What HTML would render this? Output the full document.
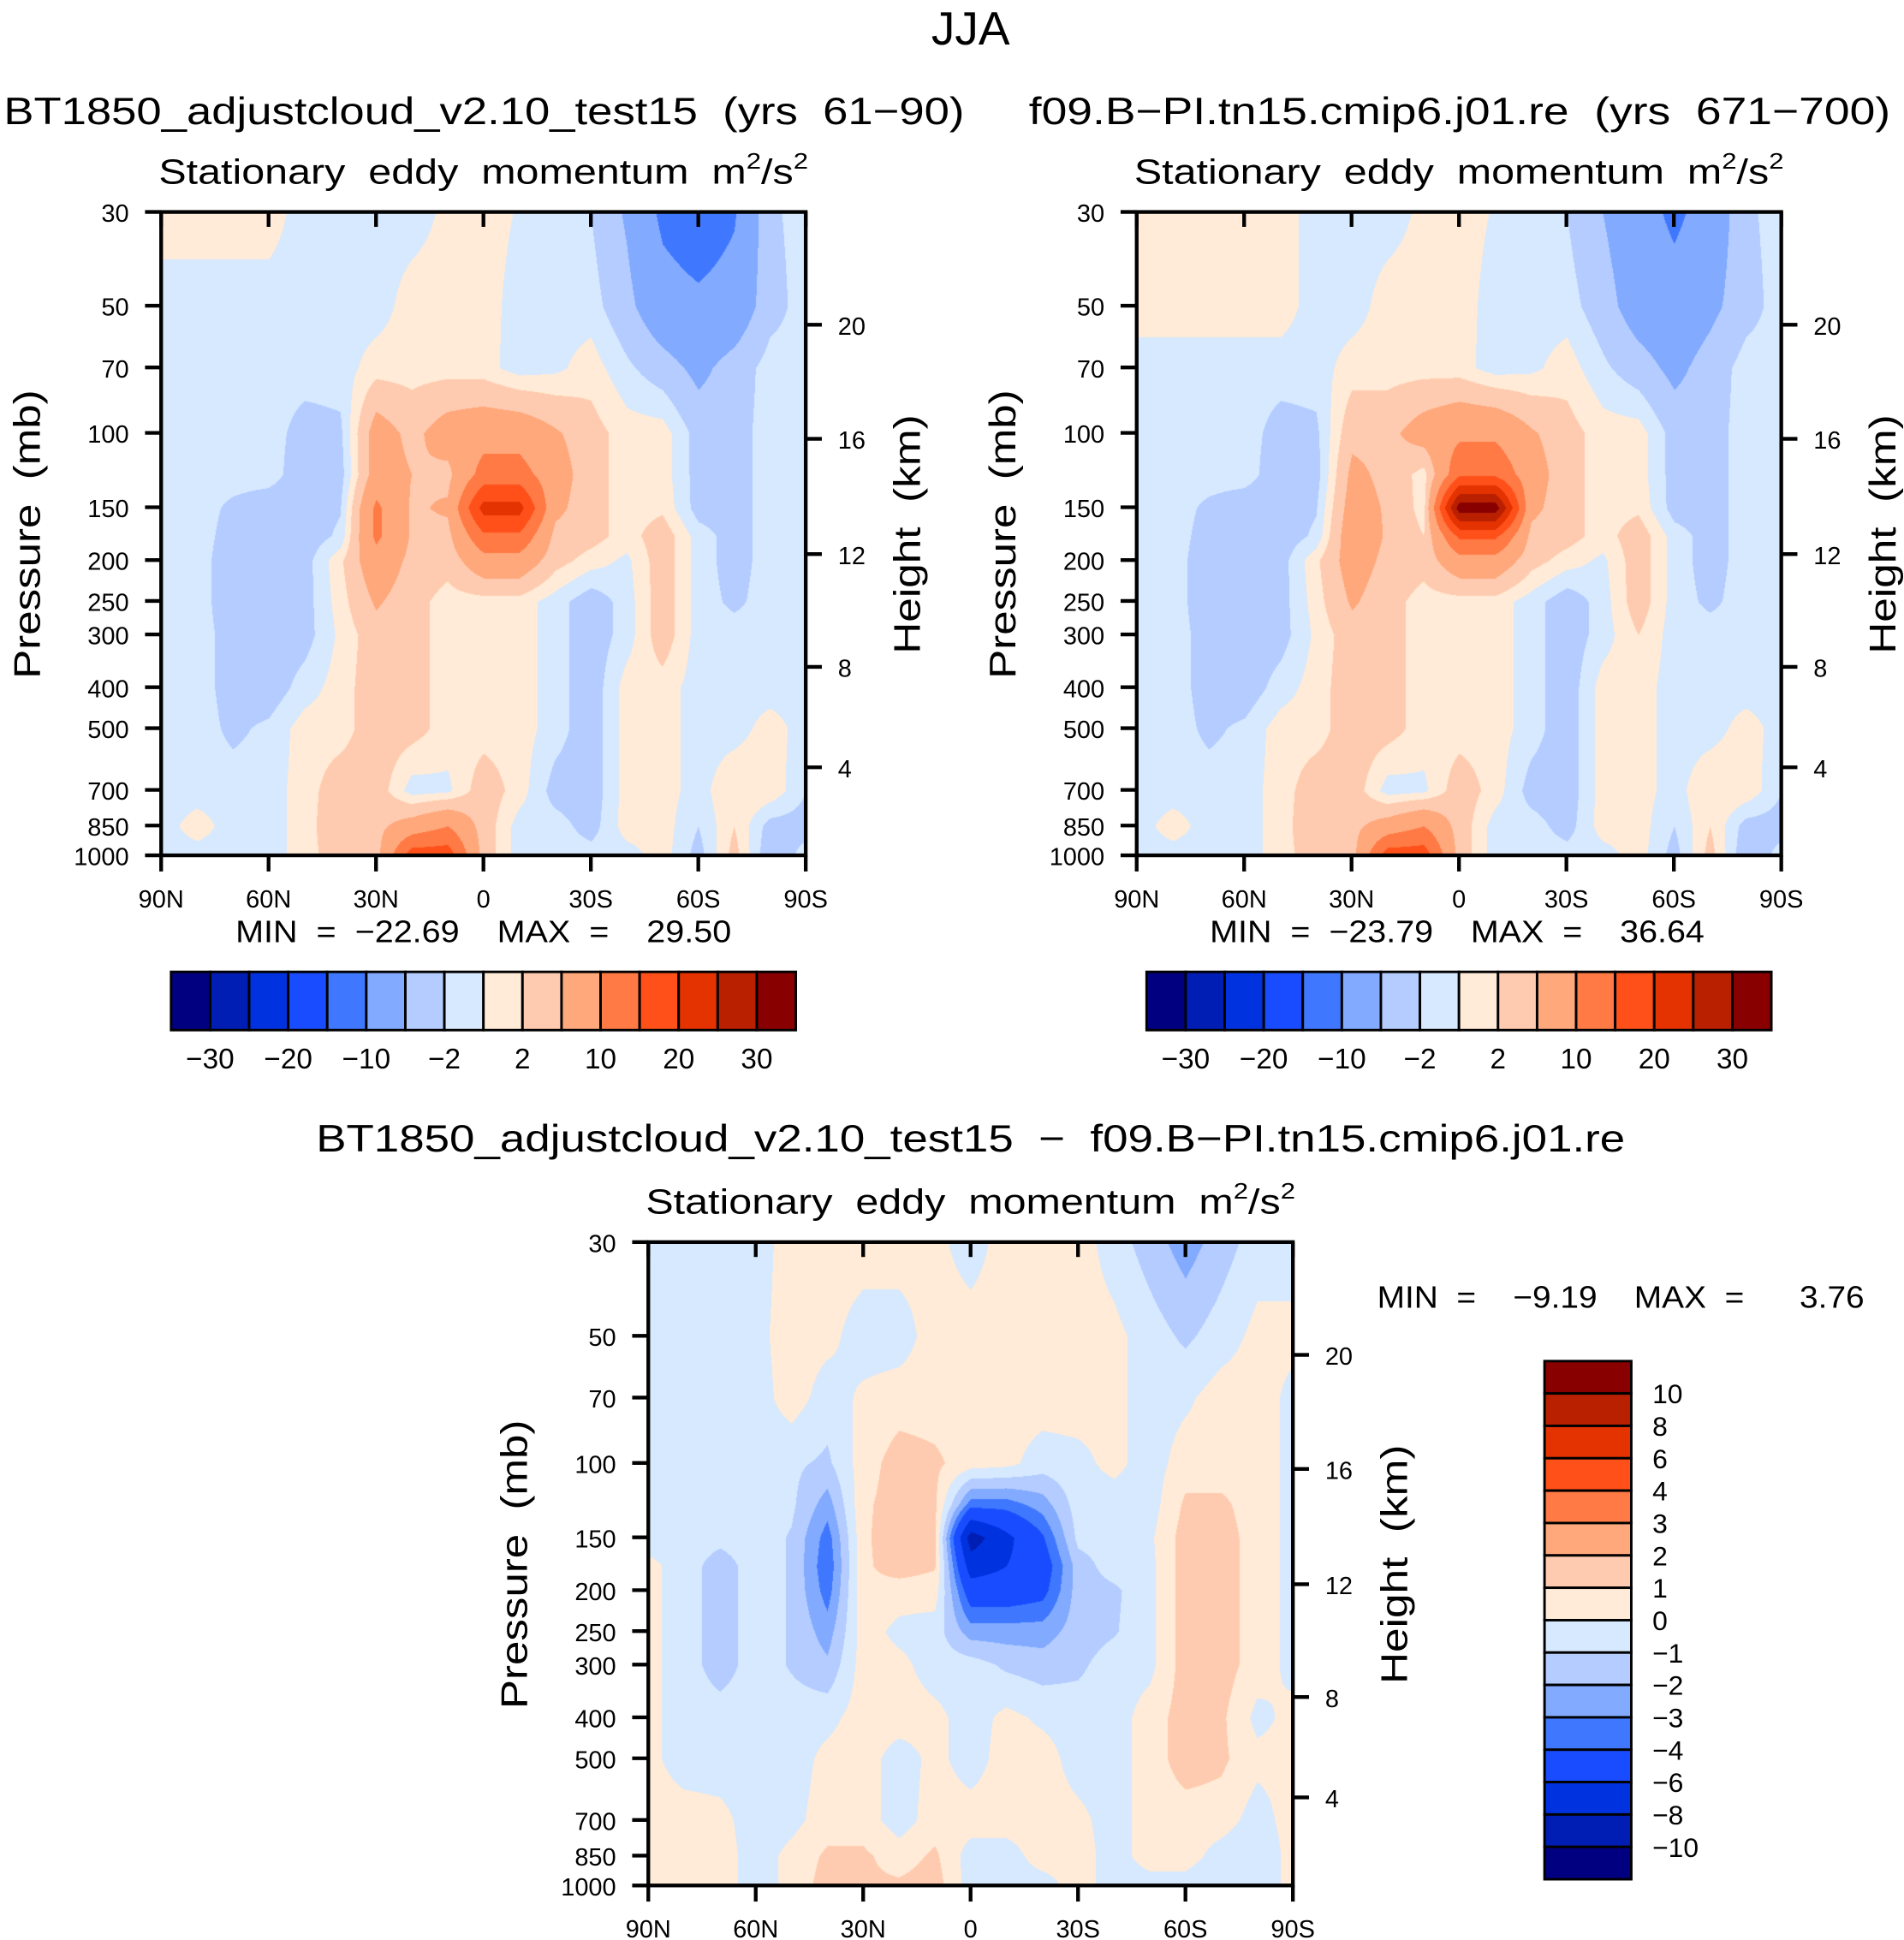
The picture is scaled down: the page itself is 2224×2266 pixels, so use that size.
<!DOCTYPE html>
<html><head><meta charset="utf-8"><style>
html,body{margin:0;padding:0;background:#fff;}
#root{position:relative;width:2224px;height:2266px;overflow:hidden;background:#fff;}
canvas{position:absolute;}
svg{position:absolute;left:0;top:0;}
text{font-family:"Liberation Sans",sans-serif;fill:#000;white-space:pre;}
</style></head><body>
<div id="root">
<canvas id="c1"></canvas>
<canvas id="c2"></canvas>
<canvas id="c3"></canvas>
<svg id="ov" width="2224" height="2266" viewBox="0 0 1536 1565" xml:space="preserve"></svg>
</div>
<script>
const pressures=[30,50,70,100,125,150,175,200,250,300,400,500,700,850,1000];
const lats=[90,80,70,60,50,40,30,20,10,0,-10,-20,-30,-40,-50,-60,-70,-80,-90];
const pTicks=[30,50,70,100,150,200,250,300,400,500,700,850,1000];
const kmTicks=["20","16","12","8","4"];
const xTickLabels=["90N","60N","30N","0","30S","60S","90S"];
const levelsAbs=[-30,-25,-20,-15,-10,-5,-2,0,2,5,10,15,20,25,30];
const cbAbsLabels=["−30","−20","−10","−2","2","10","20","30"];
const levelsDiff=[-10,-8,-6,-4,-3,-2,-1,0,1,2,3,4,6,8,10];
const cbDiffLabels=["10","8","6","4","3","2","1","0","−1","−2","−3","−4","−6","−8","−10"];
const colors=["#000080","#001eb4","#0032e0","#1a4cff","#3f78ff","#82aaff","#b4ccff","#d6e9ff","#ffebd7","#ffcbb0","#ffa87c","#ff7a44","#ff501a","#e43200","#b82000","#880000"];

const data1=[
[1,1,1,1,-1,-1,-1,-1,0.5,1,-0.2,-1,-2,-5.5,-11,-13,-10.5,-2.5,-1],
[-1,-1,-1,-1,-1,-1,-1,1,1,1,-1,-1,-1,-4,-8,-9,-8,-3,-1],
[-1,-1,-1,-1,-1,-1,1,1,1,0.8,-1,-0.5,1,-1.5,-3.5,-6,-3.5,-1,-1],
[-1,-1,-1,-1,-3,-2.5,7,4,7,8,8,5.5,3,1,1,-3,-3,-1,-1],
[-1,-1,-1,-1,-3.5,-3,7,5,4,12,12,7,3,1,1,-3,-3,-1,-1],
[-1,-1,-2.5,-3.5,-3.5,-2.2,11,4.5,5.5,22,22,6,3,1,1.5,-3,-3,-1,-1],
[-1,-1,-3,-3.5,-3.5,-1.5,11,4.5,4,14,14,4,3,1,3.5,-1,-3,-1,-1],
[-1,-1,-3.5,-3.5,-3,1.5,8,4,3,8,8,3,1,-0.5,3.5,-1,-3,-1,-1],
[-1,-1,-3.5,-3.5,-3,1,5.5,3,1,1,1,-1,-3.5,-1,3.5,-1,-2.5,-1,-1],
[-1,-1,-3,-3.5,-3,0.5,3.5,3,1,1,1,-1,-3.5,-1,3.5,-1,-1,-1,-1],
[-1,-1,-3,-3.5,-1,1,3.5,3,1,1,1,-1,-3.5,1,1,-1,-1,-1,-1],
[-1,-1,-2.5,-1.5,1,1,3.5,3,1,1,1,-1,-3.5,1,1,-1,-1,1,-1],
[-1,-1,-1,-1,1,3.5,3.5,-1,-0.5,3.5,1,-3,-3.5,1,1,-1,2,1.5,-2],
[-1,1,-1,-1,1,4,4,7,10,3.5,-1,-1,-3,1,1,-2,2,-3,-3],
[-1,-1,-1,-1,1,3.5,3.5,18,18,3.5,-1,-1,-1,-1,1,-3,3,-4,-1]];
const data2=[
[1,1,1,1,1,-1,-1,-1,0.5,1,-0.2,-1,-2,-5,-8,-11,-8,-2.5,-1],
[1,1,1,1,1,-1,-1,1,1,1,-1,-1,-1,-3.5,-7,-8,-6,-3,-1],
[-1,-1,-1,-1,-1,-1,1,1,1,0.8,-1,-0.5,1,-1.5,-3.5,-6,-3.5,-1,-1],
[-1,-1,-1,-1,-3,-2.5,4,4,7,9,9,5.5,3,1,1,-3,-3,-1,-1],
[-1,-1,-1,-1,-3.5,-3,6,4,1,14,14,7,3,1,1,-3,-3,-1,-1],
[-1,-1,-2.5,-3.5,-3.5,-2.2,7,4.5,1,33,33,6,3,1,1.5,-3,-3,-1,-1],
[-1,-1,-3,-3.5,-3.5,-1.5,8,4.5,2,16,16,4,3,1,3.5,-1,-3,-1,-1],
[-1,-1,-3.5,-3.5,-3,1.5,7,4,3,8,8,3,1,-0.5,3.5,-1,-3,-1,-1],
[-1,-1,-3.5,-3.5,-3,1,5.5,3,1,1,1,-1,-3.5,-1,3.5,-1,-2.5,-1,-1],
[-1,-1,-3,-3.5,-3,0.5,3.5,3,1,1,1,-1,-3.5,-1,2,-1,-1,-1,-1],
[-1,-1,-3,-3.5,-1,1,3.5,3,1,1,1,-1,-3.5,1,1,-1,-1,-1,-1],
[-1,-1,-2.5,-1.5,1,1,3.5,3,1,1,1,-1,-3.5,1,1,-1,-1,1,-1],
[-1,-1,-1,-1,1,3.5,3.5,-1,-0.5,3.5,1,-3,-3.5,1,1,-1,2,1.5,-2],
[-1,1,-1,-1,1,4,4,7,10,3.5,-1,-1,-3,1,1,-2,2,-3,-3],
[-1,-1,-1,-1,1,3.5,3.5,18,18,3.5,-1,-1,-1,-1,1,-3,3,-4,-1]];
const data3=[
[-0.5,-0.5,-0.5,-0.5,0.5,0.5,0.5,0.5,0.3,-0.5,0.5,0.5,0.5,-0.5,-1.5,-2.5,-1.5,-0.5,-0.5],
[-0.5,-0.5,-0.5,-0.3,0.5,0.3,-0.5,-0.5,0.5,0.5,0.5,0.5,0.5,0.3,-0.5,-1.2,-0.5,0.3,0.3],
[-0.5,-0.5,-0.5,-0.5,0.5,-0.5,0.2,0.5,0.5,0.5,0.5,0.5,0.5,0.3,-0.5,-0.2,0.5,0.5,-0.3],
[-0.5,-0.5,-0.5,-0.5,-0.8,-1.2,0.5,1.5,1.2,0.5,0.3,-0.5,-0.3,0.3,-0.5,0.5,0.5,0.5,-0.3],
[-0.5,-0.5,-0.5,-0.5,-0.8,-2.5,0.8,1.5,1.2,-3.5,-3.5,-2.5,-0.5,-0.5,-0.5,1.2,1.2,0.5,-0.3],
[-0.5,-0.5,-0.7,-0.5,-1.1,-3.5,0.8,1.7,1.2,-9,-6.5,-4.2,-0.7,-0.5,-0.2,1.5,1.5,0.5,-0.3],
[0.3,-0.5,-1.5,-0.5,-1.1,-3.8,0.8,1.5,1.1,-7,-6,-5,-1.5,-0.5,-0.3,1.5,1.5,0.5,-0.3],
[0.3,-0.5,-1.5,-0.5,-1.1,-3.5,0.8,0.5,0.5,-5,-5,-4.5,-1.5,-1.2,-0.3,1.5,1.5,0.5,-0.3],
[0.3,-0.5,-1.5,-0.5,-1.1,-2.5,0.5,-0.3,-0.5,-2.5,-2.5,-2.5,-1.5,-1.1,-0.3,1.5,1.5,0.5,-0.3],
[0.3,-0.5,-1.5,-0.5,-1.1,-1.8,0.5,0.3,-0.5,-0.5,-1.2,-1.5,-1.2,-0.5,-0.3,1.5,1.5,0.5,-0.3],
[0.3,-0.5,-0.5,-0.5,-0.5,-0.3,0.5,0.5,0.3,-0.5,0.3,-0.2,-0.5,-0.5,0.5,1.5,1.2,-0.3,0.3],
[0.3,-0.5,-0.5,-0.5,-0.5,0.3,0.5,-0.5,0.3,-0.5,0.5,0.5,-0.5,-0.5,0.5,1.5,1.2,0.3,0.3],
[0.5,0.5,0.3,-0.5,-0.3,0.5,0.5,-0.5,0.5,0.5,0.5,0.5,0.3,-0.5,0.5,0.5,0.5,-0.5,0.5],
[0.5,0.5,0.5,-0.5,0.3,1.2,1.2,0.5,1.2,-0.5,-0.5,0.5,0.5,-0.5,0.5,0.5,-0.5,-1,0.5],
[0.5,0.5,0.5,-0.5,0.3,1.5,1.2,1.2,1.5,-0.5,-0.5,-0.5,0.5,-0.5,-0.5,-0.5,-1,-1,0.5]];

const S=2224/1536, PW=520, PH=519;
const panels=[
 {id:"c1",x:130,y:171,data:data1,lev:levelsAbs},
 {id:"c2",x:917,y:171,data:data2,lev:levelsAbs},
 {id:"c3",x:523,y:1002,data:data3,lev:levelsDiff}];
function yOfP(p){return Math.log(p/30)/Math.log(1000/30)*PH;}
function xOfLat(l){return (90-l)/180*PW;}
function hex(c){return [parseInt(c.substr(1,2),16),parseInt(c.substr(3,2),16),parseInt(c.substr(5,2),16)];}
const rgb=colors.map(hex);
function levIdx(v,lev){let i=0;while(i<lev.length&&v>=lev[i])i++;return i;}
panels.forEach(pn=>{
 const cv=document.getElementById(pn.id);
 const W=Math.round(PW*S),H=Math.round(PH*S);
 cv.width=W;cv.height=H;cv.style.left=(pn.x*S)+"px";cv.style.top=(pn.y*S)+"px";
 const ctx=cv.getContext("2d");const img=ctx.createImageData(W,H);
 const rowY=pressures.map(yOfP), colX=lats.map(xOfLat);
 for(let py=0;py<H;py++){
  const dy=py/S;let r=0;while(r<rowY.length-2&&dy>rowY[r+1])r++;
  const ty=Math.min(1,Math.max(0,(dy-rowY[r])/(rowY[r+1]-rowY[r])));
  for(let px=0;px<W;px++){
   const dx=px/S;let c=0;while(c<colX.length-2&&dx>colX[c+1])c++;
   const tx=Math.min(1,Math.max(0,(dx-colX[c])/(colX[c+1]-colX[c])));
   const d=pn.data;
   const v=(d[r][c]*(1-tx)+d[r][c+1]*tx)*(1-ty)+(d[r+1][c]*(1-tx)+d[r+1][c+1]*tx)*ty;
   const col=rgb[levIdx(v,pn.lev)];const k=(py*W+px)*4;
   img.data[k]=col[0];img.data[k+1]=col[1];img.data[k+2]=col[2];img.data[k+3]=255;
  }
 }
 ctx.putImageData(img,0,0);
});

const NS="http://www.w3.org/2000/svg";const ov=document.getElementById("ov");
function el(tag,attrs,parent){const e=document.createElementNS(NS,tag);for(const k in attrs)e.setAttribute(k,attrs[k]);(parent||ov).appendChild(e);return e;}
function txt(s,x,y,size,anchor,name,extra){const t=el("text",Object.assign({x:x,y:y,"font-size":size,"text-anchor":anchor||"start"},extra||{}));t.textContent=s;


return t;}
function unitTitle(x,y,len){const t=el("text",{x:x,y:y,"font-size":28,textLength:len,lengthAdjust:"spacingAndGlyphs"});


t.appendChild(document.createTextNode("Stationary  eddy  momentum  m"));
const s1=el("tspan",{dy:-12,"font-size":18},t);s1.textContent="2";
const s2=el("tspan",{dy:12},t);s2.textContent="/s";
const s3=el("tspan",{dy:-12,"font-size":18},t);s3.textContent="2";}

txt("JJA",783,36,38,"middle","figure-title");
txt("BT1850_adjustcloud_v2.10_test15  (yrs  61−90)",3,100,31,"start","panel-1-title",{textLength:775,lengthAdjust:"spacingAndGlyphs"});
txt("f09.B−PI.tn15.cmip6.j01.re  (yrs  671−700)",830,100,31,"start","panel-2-title",{textLength:695,lengthAdjust:"spacingAndGlyphs"});
txt("BT1850_adjustcloud_v2.10_test15  −  f09.B−PI.tn15.cmip6.j01.re",255,929,31,"start","diff-title",{textLength:1056,lengthAdjust:"spacingAndGlyphs"});

const kmY=[262,354,447,538,619];
panels.forEach((pn,i)=>{
 const X=pn.x,Y=pn.y;
 unitTitle(X-2,Y-23,524);
 const fr=el("rect",{x:X,y:Y,width:PW,height:PH,fill:"none",stroke:"#000","stroke-width":3});
 
 
 pTicks.forEach(p=>{const y=Y+yOfP(p);
  el("line",{x1:X-13,x2:X,y1:y,y2:y,stroke:"#000","stroke-width":3});
  txt(String(p),X-26,y+8,20,"end","pressure-tick-label");});
 kmTicks.forEach((k,j)=>{const y=Y+kmY[j]-171;
  el("line",{x1:X+PW,x2:X+PW+13,y1:y,y2:y,stroke:"#000","stroke-width":3});
  txt(k,X+PW+26,y+8,20,"start","height-tick-label");});
 xTickLabels.forEach((s,j)=>{const x=X+xOfLat(90-30*j);
  el("line",{x1:x,x2:x,y1:Y+PH,y2:Y+PH+13,stroke:"#000","stroke-width":3});
  el("line",{x1:x,x2:x,y1:Y,y2:Y+12,stroke:"#000","stroke-width":3});
  txt(s,x,Y+PH+42,20,"middle","x-tick-label");});
 txt("Pressure  (mb)",X-98,Y+260,30,"middle","y-axis-title",{transform:`rotate(-90 ${X-98} ${Y+260})`,textLength:233,lengthAdjust:"spacingAndGlyphs"});
 txt("Height  (km)",X+PW+92,Y+260,30,"middle","right-axis-title",{transform:`rotate(-90 ${X+PW+92} ${Y+260})`,textLength:193,lengthAdjust:"spacingAndGlyphs"});
});
txt("MIN  =  −22.69    MAX  =    29.50",190,760,25,"start","min-max-1",{textLength:400,lengthAdjust:"spacingAndGlyphs"});
txt("MIN  =  −23.79    MAX  =    36.64",976,760,25,"start","min-max-2",{textLength:399,lengthAdjust:"spacingAndGlyphs"});
txt("MIN  =    −9.19    MAX  =      3.76",1111,1055,25,"start","min-max-diff",{textLength:393,lengthAdjust:"spacingAndGlyphs"});

[138,925].forEach((cx,k)=>{const bw=504/16;
 colors.forEach((c,i)=>{const r=el("rect",{x:cx+i*bw,y:784,width:bw,height:47,fill:c,stroke:"#000","stroke-width":2});
  
  });
 cbAbsLabels.forEach((s,j)=>{txt(s,cx+bw*(1+2*j),862,23,"middle","colorbar-label");});
});
{const bx=1246,by=1098,bh=418/16;
 colors.slice().reverse().forEach((c,i)=>{const r=el("rect",{x:bx,y:by+i*bh,width:70,height:bh,fill:c,stroke:"#000","stroke-width":2});
  
  });
 cbDiffLabels.forEach((s,j)=>{txt(s,1333,by+bh*(j+1)+8,22,"start","colorbar-label");});
}
</script>
</body></html>
